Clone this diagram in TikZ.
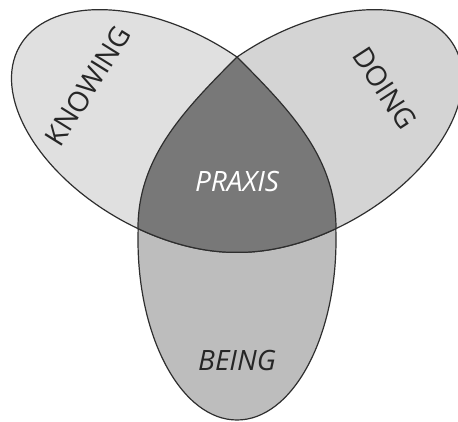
\documentclass[tikz,border=0pt]{standalone}
\usepackage{fontspec}
\setmainfont{Open Sans}
\definecolor{knowfill}{gray}{0.88}
\definecolor{doingfill}{gray}{0.83}
\definecolor{beingfill}{gray}{0.74}
\definecolor{praxisfill}{gray}{0.47}
\definecolor{edge}{gray}{0.18}
\definecolor{ink}{gray}{0.15}
\begin{document}
\begin{tikzpicture}[x=1pt,y=-1pt,line width=1.2pt,line join=round,
  region/.style={draw=edge},
  word/.style={text=ink,inner sep=0pt,font=\fontsize{28}{30}\selectfont}]
  \useasboundingbox (0,0) rectangle (458,422);
  \filldraw[region,fill=beingfill] (237,240) ellipse[x radius=99,y radius=180];
  \begin{scope}
    \clip (0,0) rectangle (237,422);
    \filldraw[region,fill=knowfill,rotate around={-30:(167,131)}]
      (167,131) ellipse[x radius=170,y radius=100];
  \end{scope}
  \begin{scope}
    \clip (237,0) rectangle (458,422);
    \filldraw[region,fill=doingfill,rotate around={30:(307,131)}]
      (307,131) ellipse[x radius=170,y radius=100];
  \end{scope}
  \filldraw[region,fill=praxisfill,samples=40,smooth,variable=\t]
    (237,57) .. controls (292,112) and (336,158.6) .. (336,228.6)
    -- plot[domain=-82:-44.5] ({307-147.22*cos(\t)-50*sin(\t)},{131+85*cos(\t)-86.6*sin(\t)})
    -- plot[domain=-44.5:-82] ({167+147.22*cos(\t)+50*sin(\t)},{131+85*cos(\t)-86.6*sin(\t)})
    .. controls (138,158.6) and (182,112) .. (237,57)
    -- cycle;
  \node[word,rotate=58] (knowing) at (88,86) {KNOWING};
  \node[word,rotate=-57] (doing) at (385,88) {DOING};
  \node[word,text=white] (praxis) at (237,182) {\itshape PRAXIS};
  \node[word] (being) at (237,360) {\itshape BEING};
\end{tikzpicture}
\end{document}
